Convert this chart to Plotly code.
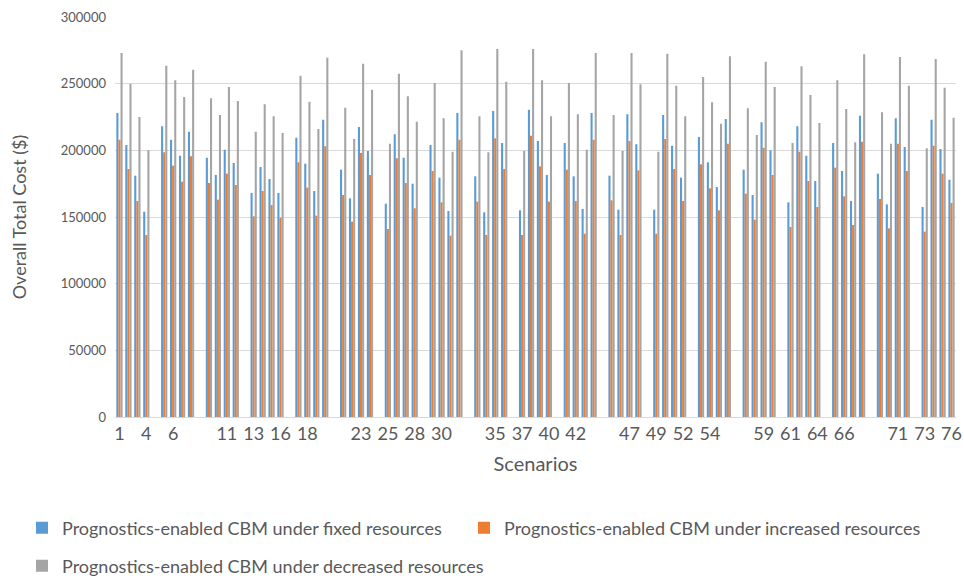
import plotly.graph_objects as go

# Overall total cost per scenario for the three resource settings
scenarios = list(range(1, 77))

fixed_resources = [
    228000, 204000, 181000, 154000,
    218000, 208000, 196000, 214000,
    194500, 181500, 200500, 190500,
    168000, 187500, 178500, 168000,
    209500, 190000, 169500, 223000,
    185500, 164000, 217500, 199500,
    160000, 212000, 194500, 175000,
    204000, 179500, 154500, 228000,
    180500, 153500, 229500, 205500,
    155000, 230500, 207000, 181500,
    205500, 180500, 156000, 228000,
    181000, 155500, 227000, 204500,
    155500, 226500, 203500, 179500,
    210000, 191000, 172500, 223500,
    185500, 166500, 221000, 200000,
    161000, 218000, 196000, 177000,
    205500, 184500, 162000, 226000,
    182500, 159500, 224000, 202500,
    157500, 223000, 201000, 178000,
]

increased_resources = [
    208000, 186000, 162000, 136500,
    198500, 188500, 176500, 195500,
    175500, 163000, 182500, 174000,
    150500, 169500, 159000, 149500,
    191000, 172000, 151000, 203000,
    166500, 146500, 198000, 181500,
    141000, 194000, 175500, 156500,
    184500, 161000, 136000, 208000,
    161500, 136500, 209000, 186000,
    136500, 211000, 188000, 161500,
    185500, 162000, 137500, 208000,
    162500, 136500, 207000, 185000,
    137500, 208500, 186000, 162000,
    189500, 171500, 155000, 205000,
    167500, 148000, 202000, 181500,
    142500, 199000, 177000, 157500,
    187000, 165500, 144000, 206500,
    163500, 141500, 205000, 184500,
    139000, 203500, 182500, 160500,
]

decreased_resources = [
    273000, 250000, 225000, 200000,
    263500, 252500, 240000, 260500,
    239000, 226500, 247500, 237000,
    214000, 234500, 225500, 213000,
    256000, 236500, 216000, 269500,
    232000, 208500, 265000, 245500,
    205000, 257500, 240500, 221500,
    250500, 224000, 199000, 275000,
    225500, 198500, 276000, 251500,
    199500, 276000, 252500, 225500,
    250500, 227000, 200500, 273000,
    226500, 199500, 273000, 249500,
    199000, 272500, 248500, 225500,
    255000, 236000, 220000, 270500,
    231500, 211500, 266500, 247500,
    205500, 263000, 241500, 220500,
    252500, 231000, 206000, 272000,
    228500, 205000, 270000, 248500,
    201500, 268500, 247000, 224500,
]

series_names = [
    "Prognostics-enabled CBM under fixed resources",
    "Prognostics-enabled CBM under increased resources",
    "Prognostics-enabled CBM under decreased resources",
]
series_colors = ["#5B9BD5", "#ED7D31", "#A5A5A5"]

# Scenarios come in blocks of four, separated by one empty category slot
GROUP = 4
slot = [(s - 1) + (s - 1) // GROUP for s in scenarios]
n_slots = slot[-1] + 1

# Category labels are shown on every third slot; empty slots stay blank
tick_vals = [p for p in slot if p % 3 == 0]
tick_text = [str(s) for s, p in zip(scenarios, slot) if p % 3 == 0]

FONT = "Lato"
TEXT = "#595959"

fig = go.Figure()
legend_ids = ["legend", "legend2", "legend3"]
for name, color, values, lg in zip(
    series_names, series_colors,
    [fixed_resources, increased_resources, decreased_resources], legend_ids
):
    fig.add_trace(go.Bar(
        x=slot, y=values, name=name, legend=lg, showlegend=True,
        marker=dict(color=color, line=dict(width=0)),
    ))

L, R, T, B = 115, 8, 17, 159
W, H = 964, 576

legend_common = dict(
    orientation="h", xanchor="left", yanchor="middle",
    xref="container", yref="container",
    font=dict(family=FONT, size=18, color=TEXT),
    bgcolor="rgba(0,0,0,0)", borderwidth=0, itemwidth=30,
)


def cx(px):
    return px / W


def cy(py):
    return (H - py) / H


fig.update_layout(
    width=W, height=H,
    margin=dict(l=L, r=R, t=T, b=B, pad=0, autoexpand=False),
    paper_bgcolor="white", plot_bgcolor="white",
    barmode="group", bargap=0.3, bargroupgap=0,
    font=dict(family=FONT, color=TEXT),
    showlegend=True,
    legend=dict(x=cx(22), y=cy(528), **legend_common),
    legend2=dict(x=cx(464), y=cy(528), **legend_common),
    legend3=dict(x=cx(22), y=cy(566), **legend_common),
    xaxis=dict(
        range=[-0.5, n_slots - 0.5],
        tickmode="array", tickvals=tick_vals, ticktext=tick_text,
        showgrid=False, zeroline=False,
        showline=True, linecolor="#D9D9D9", linewidth=1,
        ticks="", tickfont=dict(family=FONT, size=18, color=TEXT),
        title=dict(text="Scenarios", font=dict(family=FONT, size=20, color=TEXT),
                   standoff=14),
        automargin=False, fixedrange=True,
    ),
    yaxis=dict(
        range=[0, 300000], dtick=50000, tickformat="d",
        showgrid=True, gridcolor="#D9D9D9", gridwidth=1,
        zeroline=False, showline=False, ticks="",
        ticklabelstandoff=8,
        tickfont=dict(family=FONT, size=13, color=TEXT),
        title=dict(text="Overall Total Cost ($)",
                   font=dict(family=FONT, size=18, color=TEXT), standoff=29),
        automargin=False, fixedrange=True,
    ),
)

fig.write_html("out.html")
